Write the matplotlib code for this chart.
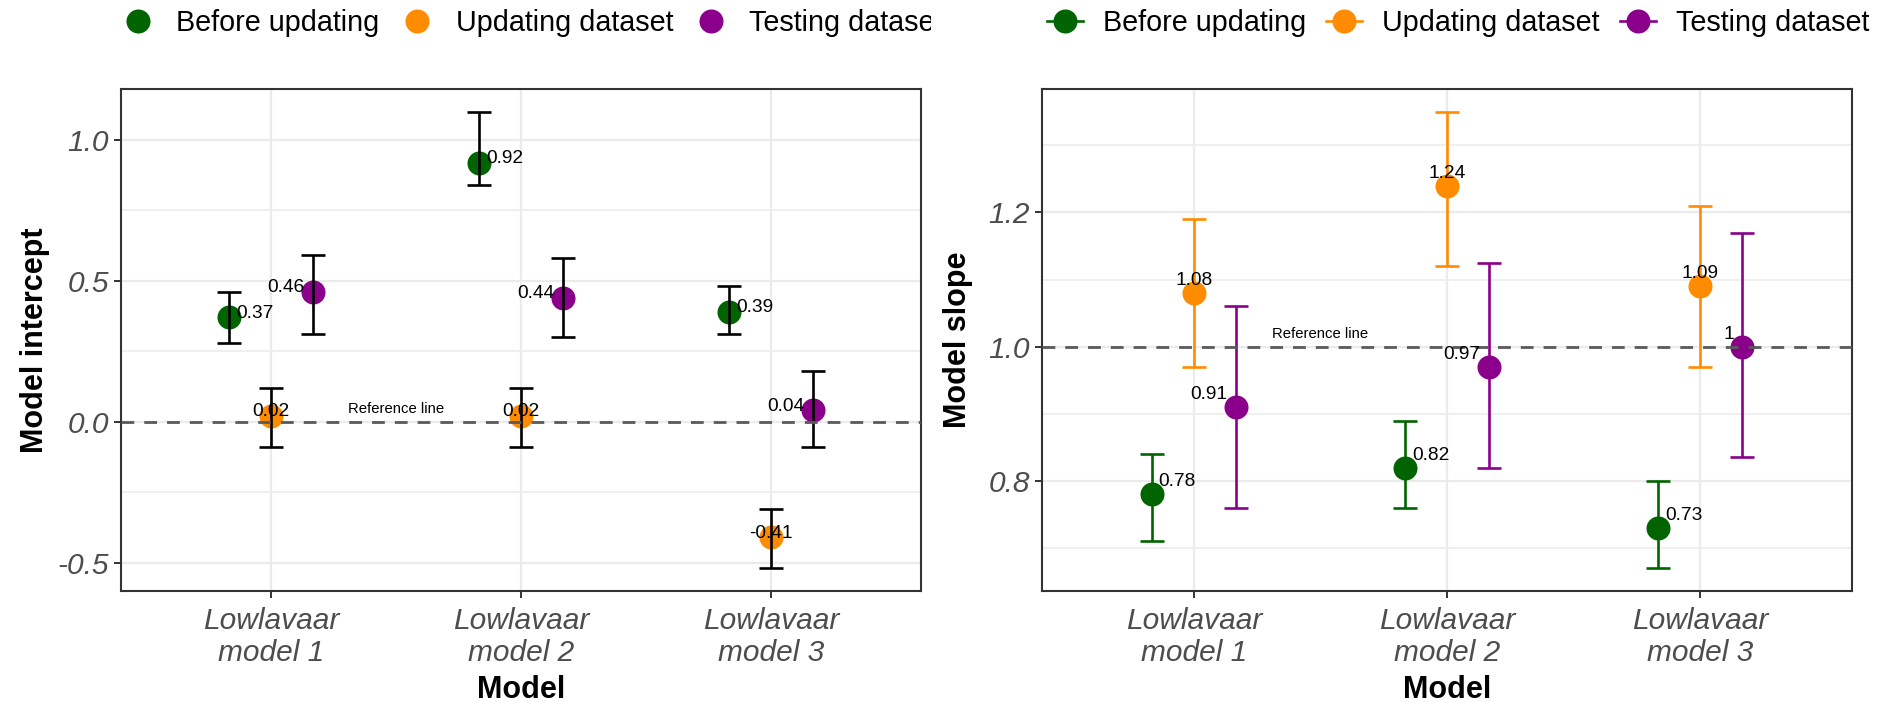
import matplotlib
matplotlib.use("Agg")
import matplotlib.pyplot as plt
import numpy as np
from matplotlib.lines import Line2D
from matplotlib.ticker import MultipleLocator, FormatStrFormatter
from matplotlib.transforms import Bbox, TransformedBbox

plt.rcParams['font.family'] = ['Liberation Sans', 'DejaVu Sans']
plt.rcParams['axes.unicode_minus'] = False

# ---------------- data ----------------
models = ["Lowlavaar\nmodel 1", "Lowlavaar\nmodel 2", "Lowlavaar\nmodel 3"]
groups = ["Before updating", "Updating dataset", "Testing dataset"]
colors = ["#006400", "#FF8C00", "#8B008B"]

intercept_before = [0.37, 0.92, 0.39]
intercept_before_lo = [0.28, 0.84, 0.31]
intercept_before_hi = [0.46, 1.10, 0.48]
intercept_updating = [0.02, 0.02, -0.41]
intercept_updating_lo = [-0.09, -0.09, -0.52]
intercept_updating_hi = [0.12, 0.12, -0.31]
intercept_testing = [0.46, 0.44, 0.04]
intercept_testing_lo = [0.31, 0.30, -0.09]
intercept_testing_hi = [0.59, 0.58, 0.18]

slope_before = [0.78, 0.82, 0.73]
slope_before_lo = [0.71, 0.76, 0.67]
slope_before_hi = [0.84, 0.89, 0.80]
slope_updating = [1.08, 1.24, 1.09]
slope_updating_lo = [0.97, 1.12, 0.97]
slope_updating_hi = [1.19, 1.35, 1.21]
slope_testing = [0.91, 0.97, 1.00]
slope_testing_lo = [0.76, 0.82, 0.835]
slope_testing_hi = [1.06, 1.125, 1.17]

intercept_ref = 0.0
slope_ref = 1.0
ref_text = "Reference line"

intercept_data = [
    (intercept_before, intercept_before_lo, intercept_before_hi),
    (intercept_updating, intercept_updating_lo, intercept_updating_hi),
    (intercept_testing, intercept_testing_lo, intercept_testing_hi),
]
slope_data = [
    (slope_before, slope_before_lo, slope_before_hi),
    (slope_updating, slope_updating_lo, slope_updating_hi),
    (slope_testing, slope_testing_lo, slope_testing_hi),
]

# ---------------- styling ----------------
W, H = 1890, 702
fig = plt.figure(figsize=(W / 100, H / 100), dpi=100)
ax1 = fig.add_axes([121 / W, 111 / H, 800 / W, 502 / H])
ax2 = fig.add_axes([1042 / W, 111 / H, 810 / W, 502 / H])

dodge = [-1 / 6, 0.0, 1 / 6]
MS = 17.3
LW_ERR = 1.9
CAP = 8.6
TICK_FS = 21.5
TITLE_FS = 22
VAL_FS = 13.8
LEG_FS = 20.7


def fmt(v):
    return f"{round(v, 2):g}"


def panel(ax, data, ref, ylabel, major, colored, dy):
    x0 = np.arange(len(models))
    allv = []
    for gi, ((vals, lo, hi), col) in enumerate(zip(data, colors)):
        vals = np.asarray(vals); lo = np.asarray(lo); hi = np.asarray(hi)
        allv += list(lo) + list(hi)
        x = x0 + dodge[gi]
        ax.plot(x, vals, 'o', ms=MS, color=col, mec='none', zorder=3)
        ax.errorbar(x, vals, yerr=[vals - lo, hi - vals], fmt='none',
                    ecolor=(col if colored else 'black'), elinewidth=LW_ERR,
                    capsize=CAP, capthick=LW_ERR, zorder=4)
        for xi, v in zip(x, vals):
            if gi == 0:
                ha, dx = 'left', 5
            elif gi == 1:
                ha, dx = 'center', 0
            else:
                ha, dx = 'right', -6
            ax.annotate(fmt(v), (xi, v), xytext=(dx, dy), textcoords='offset points',
                        ha=ha, va='center', fontsize=VAL_FS, color='black', zorder=6)
    ax.axhline(ref, ls=(0, (4.6, 3.6)), color='#5a5a5a', lw=2.0, zorder=5)
    ax.annotate(ref_text, ((x0[0] + x0[1]) / 2, ref), xytext=(0, 9),
                textcoords='offset points', ha='center', va='center',
                fontsize=10.7, color='black', zorder=6)
    lo_, hi_ = min(allv), max(allv)
    r = hi_ - lo_
    ax.set_ylim(lo_ - 0.05 * r, hi_ + 0.05 * r)
    ax.set_xlim(-0.6, len(models) - 0.4)
    ax.set_xticks(x0)
    ax.set_xticklabels(models, fontsize=TICK_FS, style='italic', color='#4D4D4D')
    ax.yaxis.set_major_locator(MultipleLocator(major))
    ax.yaxis.set_minor_locator(MultipleLocator(major / 2))
    ax.yaxis.set_major_formatter(FormatStrFormatter('%.1f'))
    for lab in ax.get_yticklabels():
        lab.set_fontsize(TICK_FS); lab.set_fontstyle('italic'); lab.set_color('#4D4D4D')
    ax.tick_params(axis='both', which='major', length=5, width=1.4, color='#333333',
                   labelsize=TICK_FS, labelcolor='#4D4D4D')
    ax.tick_params(axis='y', which='major', pad=3.6)
    ax.tick_params(axis='x', which='major', pad=6.5)
    ax.tick_params(axis='y', which='minor', length=0)
    ax.grid(True, which='major', color='#EBEBEB', lw=1.6, zorder=0)
    ax.grid(True, which='minor', axis='y', color='#EBEBEB', lw=1.1, zorder=0)
    ax.set_axisbelow(True)
    for s in ax.spines.values():
        s.set_color('#333333'); s.set_linewidth(1.5)
    ax.set_ylabel(ylabel, fontsize=TITLE_FS, fontweight='bold')
    ax.set_xlabel("Model", fontsize=TITLE_FS, fontweight='bold')
    ax.xaxis.set_label_coords(0.5, -0.167)


panel(ax1, intercept_data, intercept_ref, "Model intercept", 0.5, False, 3)
panel(ax2, slope_data, slope_ref, "Model slope", 0.2, True, 9)
ax1.yaxis.set_label_coords(-0.089, 0.5)
ax2.yaxis.set_label_coords(-0.085, 0.5)

# ---------------- legends ----------------
h1 = [Line2D([], [], marker='o', ls='none', ms=MS, color=c, mec='none') for c in colors]
h2 = [Line2D([], [], marker='o', ls='-', lw=LW_ERR, ms=MS, color=c, mec='none') for c in colors]
common = dict(ncol=3, frameon=False, fontsize=LEG_FS, handlelength=1.25,
              handletextpad=0.7, columnspacing=0.7, borderpad=0, borderaxespad=0)
leg1 = fig.legend(h1, groups, loc='center left', bbox_to_anchor=(120 / W, 1 - 23 / H), **common)
leg2 = fig.legend(h2, groups, loc='center left', bbox_to_anchor=(1047 / W, 1 - 23 / H), **common)
clip = TransformedBbox(Bbox([[0, 0], [931 / W, 1]]), fig.transFigure)
for t in leg1.get_texts():
    t.set_clip_box(clip)
    t.set_clip_on(True)

fig.savefig("out.png", dpi=100, facecolor='white')
